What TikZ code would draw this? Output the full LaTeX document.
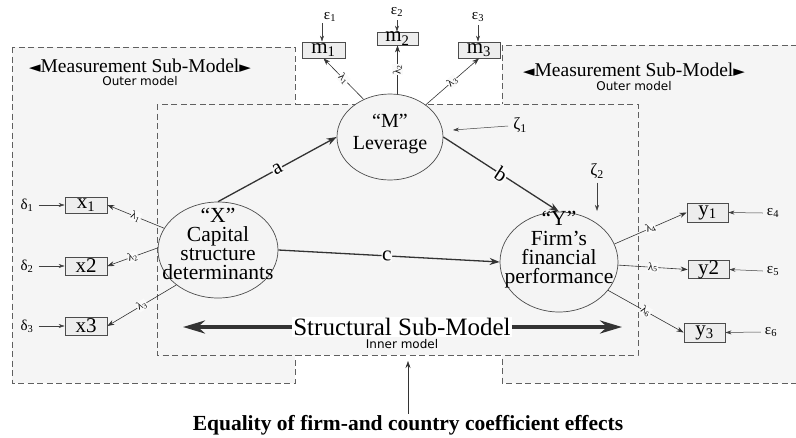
\documentclass[tikz,border=0pt]{standalone}
\usepackage{fontspec}
\setmainfont{Liberation Serif}
\newfontfamily\sansf{DejaVu Sans}
\usetikzlibrary{arrows.meta,shapes.geometric}
\newcommand{\sbs}[1]{\textsubscript{#1}}
\begin{document}
\begin{tikzpicture}[x=1pt,y=-1pt,
  dashbox/.style={draw=gray!75!black, dash pattern=on 6pt off 3.5pt, line width=0.9pt, fill=gray!8},
  latent/.style={ellipse, draw=gray!60!black, line width=0.7pt, fill=gray!9, inner sep=0pt},
  lattext/.style={align=center, font=\fontsize{21.5}{19}\selectfont, inner sep=0pt},
  ind/.style={rectangle, draw=gray!60!black, line width=0.8pt, fill=gray!14, minimum width=42pt, minimum height=16pt, inner sep=0pt, font=\fontsize{21}{21}\selectfont},
  load/.style={-{Stealth[length=7pt,width=5pt]}, line width=0.6pt, draw=black!80},
  err/.style={-{Stealth[length=6pt,width=4pt]}, line width=0.5pt, draw=black!75},
  struct/.style={-{Stealth[length=10pt,width=7pt]}, line width=1.3pt, draw=black!80},
  bigarrow/.style={-{Stealth[length=22pt,width=13pt]}, line width=3.5pt, draw=black!80},
  lab/.style={font=\fontsize{11}{11}\selectfont, fill=gray!4, inner sep=0.4pt, sloped},
  slab/.style={font=\fontsize{21}{21}\selectfont, fill=gray!4, inner sep=0.6pt, sloped},
  errlab/.style={font=\fontsize{15}{15}\selectfont, inner sep=0pt},
  mlab/.style={font=\fontsize{19.5}{19.5}\selectfont, inner sep=0pt},
  tri/.style={font=\sansf\fontsize{15}{15}\selectfont},
  olab/.style={font=\sansf\fontsize{12}{12}\selectfont, inner sep=0pt}
]
\useasboundingbox (0,0) rectangle (796,437);

% boxes
\path[dashbox] (12,47) rectangle (295,383);
\path[dashbox] (502,45) rectangle (815,383);
\path[dashbox] (157,104) rectangle (638,355);

% measurement labels
\node[mlab] (ml) at (140,66) {{\sansf\fontsize{15}{15}\selectfont ◄}Measurement Sub-Model{\sansf\fontsize{15}{15}\selectfont ►}};
\node[olab] (ol) at (140,81) {Outer model};
\node[mlab] (mr) at (634,70) {{\sansf\fontsize{15}{15}\selectfont ◄}Measurement Sub-Model{\sansf\fontsize{15}{15}\selectfont ►}};
\node[olab] (or) at (634,86) {Outer model};

% latent variables
\node[latent, minimum width=106pt, minimum height=86pt] (M) at (390,137) {};
\node[lattext, font=\fontsize{20}{22}\selectfont] (Mt) at (390,134) {“M”\\Leverage};
\node[latent, minimum width=120pt, minimum height=96pt] (X) at (218,250) {};
\node[lattext] (Xt) at (218,244) {“X”\\Capital\\structure\\determinants};
\node[latent, minimum width=118pt, minimum height=100pt] (Y) at (559,262) {};
\node[lattext] (Yt) at (559,250) {“Y”\\[1pt]Firm’s\\financial\\performance};

% indicators
\node[ind, minimum width=43pt] (m1) at (323.5,50) {m\sbs{1}};
\node[ind, minimum width=41pt, minimum height=13pt] (m2) at (397.5,38.5) {m\sbs{2}};
\node[ind] (m3) at (479,50) {m\sbs{3}};
\node[ind] (x1) at (86,205) {x\sbs{1}};
\node[ind, minimum height=18pt] (x2) at (86,266) {x2};
\node[ind, minimum height=18pt] (x3) at (86,326) {x3};
\node[ind, minimum width=41pt, minimum height=19pt] (y1) at (707.5,212.5) {y\sbs{1}};
\node[ind, minimum width=41pt, minimum height=17pt] (y2) at (708.5,269.5) {y2};
\node[ind, minimum width=41pt, minimum height=19pt] (y3) at (704.5,332.5) {y\sbs{3}};

% error terms
\node[errlab] (e1) at (330,17) {ε\sbs{1}};
\node[errlab] (e2) at (397,12) {ε\sbs{2}};
\node[errlab] (e3) at (478,17) {ε\sbs{3}};
\coordinate (e1s) at (322,23);
\coordinate (e2s) at (397,20);
\coordinate (e3s) at (478,25);
\draw[err] (e1s) -- (e1s |- m1.north);
\draw[err] (e2s) -- (e2s |- m2.north);
\draw[err] (e3s) -- (e3s |- m3.north);

\node[errlab] (d1) at (27,205) {δ\sbs{1}};
\node[errlab] (d2) at (27,266) {δ\sbs{2}};
\node[errlab] (d3) at (27,326) {δ\sbs{3}};
\draw[err] (d1.east) ++(5,0) -- (x1.west);
\draw[err] (d2.east) ++(5,0) -- (x2.west);
\draw[err] (d3.east) ++(5,0) -- (x3.west);

\node[errlab] (e4) at (773,213) {ε\sbs{4}};
\node[errlab] (e5) at (773,271) {ε\sbs{5}};
\node[errlab] (e6) at (771,332) {ε\sbs{6}};
\draw[err] (e4.west) ++(-4,0) -- (y1.east);
\draw[err] (e5.west) ++(-4,0) -- (y2.east);
\draw[err] (e6.west) ++(-4,0) -- (y3.east);

\node[errlab, font=\fontsize{17}{17}\selectfont] (z1) at (520,125) {ζ\sbs{1}};
\node[errlab, font=\fontsize{17}{17}\selectfont] (z2) at (597,171) {ζ\sbs{2}};
\coordinate (z1e) at (453,130);
\coordinate (z2e) at (597,211);
\draw[err] (z1.west) ++(-5,1) -- (z1e);
\draw[err] (z2.south) ++(0,4) -- (z2e);

% loadings
\draw[load] (M.125) -- node[lab] {λ\sbs{1}} (m1.south);
\draw[load] (m2.south |- M.north) -- node[lab] {λ\sbs{2}} (m2.south);
\draw[load] (M.42) -- node[lab] {λ\sbs{3}} (m3.south);
\draw[load] (X.158) -- node[lab] {λ\sbs{1}} (x1.east);
\draw[load] (X.178) -- node[lab] {λ\sbs{2}} (x2.east);
\draw[load] (X.220) -- node[lab] {λ\sbs{3}} (x3.east);
\draw[load] (Y.18) -- node[lab] {λ\sbs{4}} (y1.west);
\draw[load] (Y.-3) -- node[lab] {λ\sbs{5}} (y2.west);
\draw[load] (Y.-30) -- node[lab] {λ\sbs{6}} (y3.west);

% structural paths
\draw[struct] (X.north) -- node[slab] {a} (M.west);
\draw[struct] (M.east) -- node[slab] {b} (Y.north);
\draw[struct] (X.east) -- node[slab, pos=0.49] {c} (Y.west);

% structural sub-model
\node[font=\fontsize{25}{25}\selectfont, fill=white, inner sep=1pt] (ss) at (402,327) {Structural Sub-Model};
\node[olab] (im) at (402,344) {Inner model};
\coordinate (ssl) at (183,327);
\coordinate (ssr) at (622,327);
\draw[bigarrow] (ss.west) -- (ssl);
\draw[bigarrow] (ss.east) -- (ssr);

% bottom
\node[font=\bfseries\fontsize{21.5}{21.5}\selectfont, anchor=base, inner sep=1pt] (eq) at (408,430) {Equality of firm-and country coefficient effects};
\coordinate (up) at (408,361);
\draw[load] (eq.north) -- (up);
\end{tikzpicture}
\end{document}
